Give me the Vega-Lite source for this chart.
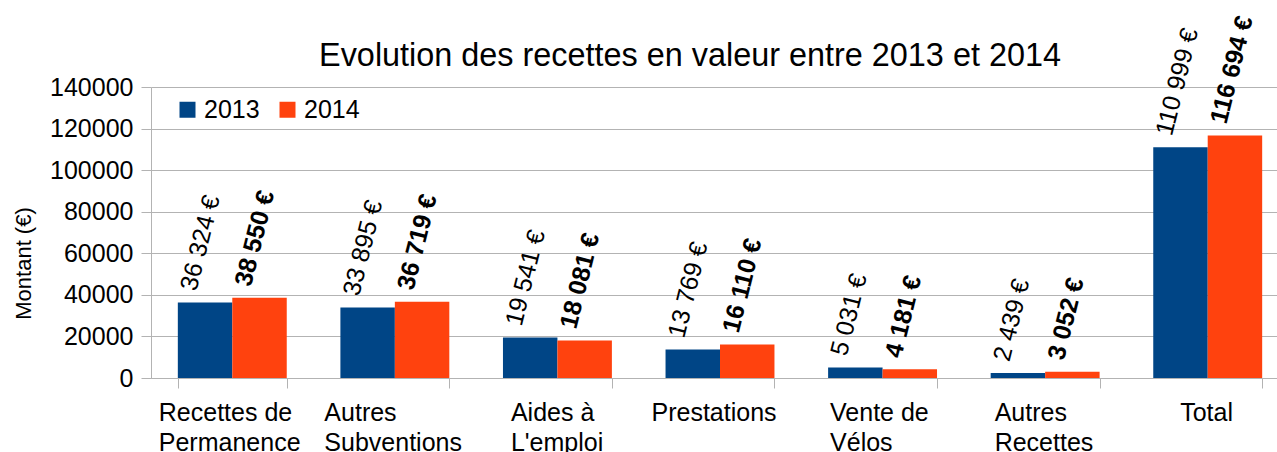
{
  "$schema": "https://vega.github.io/schema/vega-lite/v6.json",
  "width": 1126,
  "height": 291,
  "autosize": "none",
  "padding": {"left": 151, "top": 87, "right": 0, "bottom": 74},
  "background": "white",
  "config": {
    "font": "Liberation Sans",
    "view": {"stroke": null},
    "axis": {"labelColor": "#000000", "titleColor": "#000000", "gridColor": "#b3b3b3", "domainColor": "#b3b3b3", "tickColor": "#b3b3b3", "labelFont": "Liberation Sans", "titleFont": "Liberation Sans"}
  },
  "title": {
    "text": "Evolution des recettes en valeur entre 2013 et 2014",
    "fontSize": 32.4,
    "fontWeight": "normal",
    "color": "#000000",
    "font": "Liberation Sans",
    "anchor": "middle",
    "baseline": "alphabetic",
    "offset": -85,
    "dx": -24
  },
  "data": {
    "values": [
      {"cat": "Recettes de Permanence", "year": "2013", "value": 36324, "label": "36 324 €"},
      {"cat": "Recettes de Permanence", "year": "2014", "value": 38550, "label": "38 550 €"},
      {"cat": "Autres Subventions", "year": "2013", "value": 33895, "label": "33 895 €"},
      {"cat": "Autres Subventions", "year": "2014", "value": 36719, "label": "36 719 €"},
      {"cat": "Aides à L'emploi", "year": "2013", "value": 19541, "label": "19 541 €"},
      {"cat": "Aides à L'emploi", "year": "2014", "value": 18081, "label": "18 081 €"},
      {"cat": "Prestations", "year": "2013", "value": 13769, "label": "13 769 €"},
      {"cat": "Prestations", "year": "2014", "value": 16110, "label": "16 110 €"},
      {"cat": "Vente de Vélos", "year": "2013", "value": 5031, "label": "5 031 €"},
      {"cat": "Vente de Vélos", "year": "2014", "value": 4181, "label": "4 181 €"},
      {"cat": "Autres Recettes", "year": "2013", "value": 2439, "label": "2 439 €"},
      {"cat": "Autres Recettes", "year": "2014", "value": 3052, "label": "3 052 €"},
      {"cat": "Total", "year": "2013", "value": 110999, "label": "110 999 €"},
      {"cat": "Total", "year": "2014", "value": 116694, "label": "116 694 €"}
    ]
  },
  "encoding": {
    "x": {
      "field": "cat",
      "type": "nominal",
      "sort": null,
      "scale": {"paddingInner": 0.33, "paddingOuter": 0.165, "range": [0, 1138]},
      "axis": {
        "title": null,
        "labelAngle": 0,
        "labelFontSize": 25,
        "labelLineHeight": 30,
        "labelAlign": "left",
        "labelBaseline": "top",
        "labelPadding": 12,
        "labelLimit": 0,
        "tickSize": 10,
        "tickBand": "extent",
        "labelExpr": "indexof(datum.label, ' ') < 0 ? datum.label : [substring(datum.label, 0, lastindexof(datum.label, ' ')), substring(datum.label, lastindexof(datum.label, ' ') + 1)]",
        "labelOffset": {
          "condition": [
            {"test": "datum.value === 'Recettes de Permanence'", "value": -74},
            {"test": "datum.value === 'Autres Subventions'", "value": -71},
            {"test": "datum.value === \"Aides à L'emploi\"", "value": -47},
            {"test": "datum.value === 'Prestations'", "value": -69},
            {"test": "datum.value === 'Vente de Vélos'", "value": -53},
            {"test": "datum.value === 'Autres Recettes'", "value": -51}
          ],
          "value": -28
        }
      }
    },
    "xOffset": {"field": "year", "type": "nominal", "scale": {"paddingInner": 0, "paddingOuter": 0}},
    "y": {
      "field": "value",
      "type": "quantitative",
      "scale": {"domain": [0, 140000], "nice": false},
      "axis": {
        "title": "Montant (€)",
        "titleFontSize": 22,
        "titleFontWeight": "normal",
        "titleAngle": -90,
        "titleX": -128,
        "titleY": 176,
        "titleBaseline": "middle",
        "titleAlign": "center",
        "values": [0, 20000, 40000, 60000, 80000, 100000, 120000, 140000],
        "format": "d",
        "labelFontSize": 25,
        "labelPadding": 8,
        "tickSize": 10,
        "grid": true
      }
    }
  },
  "layer": [
    {
      "mark": {"type": "bar"},
      "encoding": {
        "color": {
          "field": "year",
          "type": "nominal",
          "scale": {"domain": ["2013", "2014"], "range": ["#004586", "#ff420e"]},
          "legend": {
            "orient": "none",
            "legendX": 24,
            "legendY": 10,
            "direction": "horizontal",
            "title": null,
            "symbolType": "square",
            "symbolSize": 256,
            "symbolStrokeWidth": 0,
            "labelFontSize": 25,
            "labelColor": "#000000",
            "labelFont": "Liberation Sans",
            "labelOffset": 4,
            "columnPadding": 15,
            "padding": 0
          }
        }
      }
    },
    {
      "transform": [{"filter": "datum.year === '2013'"}],
      "mark": {"type": "text", "angle": -76, "align": "left", "baseline": "alphabetic", "dx": 8, "dy": -11, "fontSize": 25, "color": "#000000", "font": "Liberation Sans"},
      "encoding": {"text": {"field": "label"}}
    },
    {
      "transform": [{"filter": "datum.year === '2014'"}],
      "mark": {"type": "text", "angle": -76, "align": "left", "baseline": "alphabetic", "dx": 8, "dy": -11, "fontSize": 25, "fontWeight": "bold", "color": "#000000", "font": "Liberation Sans"},
      "encoding": {"text": {"field": "label"}}
    }
  ]
}
